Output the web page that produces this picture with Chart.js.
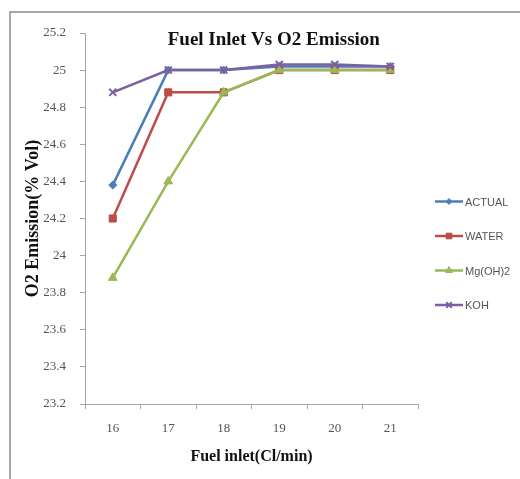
<!DOCTYPE html>
<html>
<head>
<meta charset="utf-8">
<script src="https://cdn.jsdelivr.net/npm/chart.js@4/dist/chart.umd.min.js"></script>
<style>
  html, body { margin: 0; padding: 0; background: #fff; }
  canvas { display: block; }
</style>
</head>
<body>
<canvas id="chart" width="520" height="479"></canvas>
<script>
// Fuel inlet flow rate (Cl/min) on the x axis
const fuelInlet = ['16', '17', '18', '19', '20', '21'];

// O2 emission (% Vol) for each additive
const actual = [24.38, 25.0, 25.0, 25.02, 25.02, 25.02];
const water  = [24.2, 24.88, 24.88, 25.0, 25.0, 25.0];
const mgoh2  = [23.88, 24.4, 24.88, 25.0, 25.0, 25.0];
const koh    = [24.88, 25.0, 25.0, 25.03, 25.03, 25.02];

const seriesNames = ['ACTUAL', 'WATER', 'Mg(OH)2', 'KOH'];

// Y axis range and step
const yMin = 23.2;
const yMax = 25.2;
const yStep = 0.2;

const chartTitle = 'Fuel Inlet Vs O2 Emission';
const xTitle = 'Fuel inlet(Cl/min)';
const yTitle = 'O2 Emission(% Vol)';

const colors = ['#4a7ebb', '#be4b48', '#98b954', '#7d60a0'];
const markers = ['rectRot', 'rect', 'triangle', 'crossRot'];
const radii = [4, 5, 5, 5];

const seriesData = [actual, water, mgoh2, koh];

const datasets = seriesData.map((vals, i) => ({
  label: seriesNames[i],
  data: vals,
  borderColor: colors[i],
  backgroundColor: colors[i],
  pointBackgroundColor: colors[i],
  pointBorderColor: colors[i],
  pointStyle: markers[i],
  pointRadius: radii[i],
  pointBorderWidth: i === 3 ? 2 : 1,
  borderWidth: 2.5,
  tension: 0,
  // later series sit on top of earlier ones
  order: seriesData.length - i
}));

// White page with a thin frame along the top and left edges
const framePlugin = {
  id: 'frame',
  beforeDraw(chart) {
    const ctx = chart.ctx;
    ctx.save();
    ctx.fillStyle = '#ffffff';
    ctx.fillRect(0, 0, chart.width, chart.height);
    ctx.strokeStyle = '#8c8c8c';
    ctx.lineWidth = 1.5;
    ctx.beginPath();
    ctx.moveTo(10, chart.height);
    ctx.lineTo(10, 12);
    ctx.lineTo(chart.width, 12);
    ctx.stroke();
    ctx.restore();
  }
};

// Chart title drawn inside the plot area, near its top
const titlePlugin = {
  id: 'insetTitle',
  afterDraw(chart) {
    const ctx = chart.ctx;
    const a = chart.chartArea;
    ctx.save();
    ctx.font = 'bold 19px "Liberation Serif", "Times New Roman", serif';
    ctx.fillStyle = '#111';
    ctx.textAlign = 'center';
    ctx.textBaseline = 'middle';
    ctx.fillText(chartTitle, a.left + (a.right - a.left) * 0.567, a.top + 7);
    ctx.restore();
  }
};

// Legend on the right: short line with the series marker, then the name
const legendPlugin = {
  id: 'sideLegend',
  afterDraw(chart) {
    const ctx = chart.ctx;
    const a = chart.chartArea;
    const x0 = a.right + 17;
    const y0 = 201.5;
    const gap = 34.5;
    ctx.save();
    ctx.font = '11px "Liberation Sans", Arial, sans-serif';
    ctx.textBaseline = 'middle';
    chart.data.datasets.forEach((ds, i) => {
      const y = y0 + i * gap;
      ctx.strokeStyle = ds.borderColor;
      ctx.lineWidth = 2.5;
      ctx.beginPath();
      ctx.moveTo(x0, y);
      ctx.lineTo(x0 + 28, y);
      ctx.stroke();
      ctx.fillStyle = ds.borderColor;
      ctx.lineWidth = ds.pointBorderWidth;
      Chart.helpers.drawPoint(ctx, {
        pointStyle: ds.pointStyle,
        radius: ds.pointRadius - 1,
        borderWidth: ds.pointBorderWidth,
        rotation: 0
      }, x0 + 14, y);
      ctx.fillStyle = '#555';
      ctx.fillText(ds.label, x0 + 30, y + 1);
    });
    ctx.restore();
  }
};

new Chart(document.getElementById('chart'), {
  type: 'line',
  data: { labels: fuelInlet, datasets },
  plugins: [framePlugin, titlePlugin, legendPlugin],
  options: {
    responsive: false,
    animation: false,
    layout: { padding: { left: 12, top: 33, right: 102, bottom: 13 } },
    plugins: {
      legend: { display: false },
      title: { display: false },
      tooltip: { enabled: false }
    },
    scales: {
      x: {
        type: 'category',
        offset: true,
        afterFit(scale) { scale.height = 62; },
        grid: {
          display: true,
          offset: true,
          drawOnChartArea: false,
          drawTicks: true,
          tickLength: 5,
          color: '#a6a6a6',
          lineWidth: 1
        },
        border: { display: true, color: '#a6a6a6', width: 1 },
        ticks: {
          padding: 12,
          color: '#555',
          font: { family: '"Liberation Serif", "Times New Roman", serif', size: 13 }
        },
        title: {
          display: true,
          text: xTitle,
          color: '#111',
          padding: { top: 0, bottom: 0 },
          font: { family: '"Liberation Serif", "Times New Roman", serif', size: 16, weight: 'bold' }
        }
      },
      y: {
        min: yMin,
        max: yMax,
        afterFit(scale) { scale.width = 73; },
        grid: {
          display: true,
          drawOnChartArea: false,
          drawTicks: true,
          tickLength: 5,
          color: '#a6a6a6',
          lineWidth: 1
        },
        border: { display: true, color: '#a6a6a6', width: 1 },
        ticks: {
          stepSize: yStep,
          padding: 14,
          color: '#555',
          font: { family: '"Liberation Serif", "Times New Roman", serif', size: 13 },
          callback: (v) => String(Number(v.toFixed(1)))
        },
        title: {
          display: true,
          text: yTitle,
          color: '#111',
          padding: { top: 11, bottom: 0 },
          font: { family: '"Liberation Serif", "Times New Roman", serif', size: 18, weight: 'bold' }
        }
      }
    }
  }
});
</script>
</body>
</html>
